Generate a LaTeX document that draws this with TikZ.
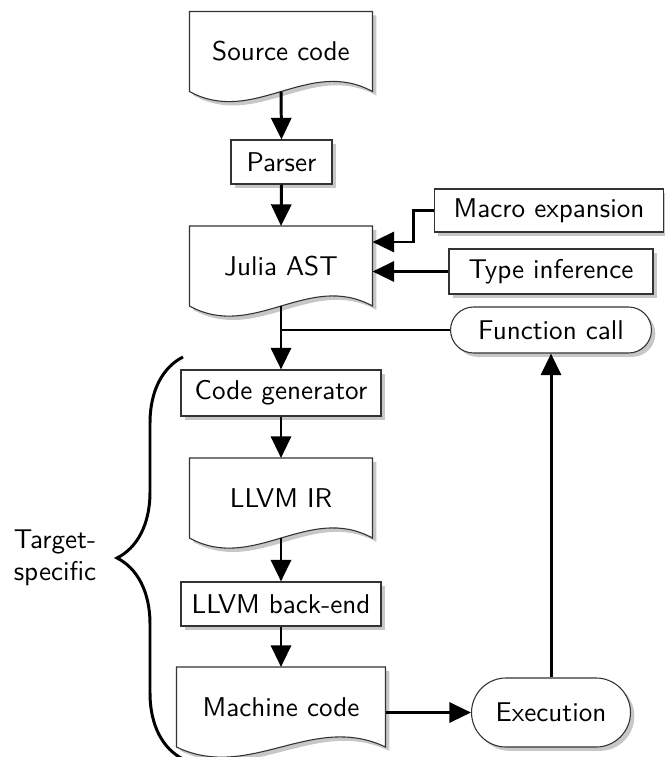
\documentclass[tikz,border=0pt]{standalone}
\usepackage{tikz}
\usetikzlibrary{arrows.meta}
\usetikzlibrary{shapes.misc,shadows,calc,backgrounds}
\usetikzlibrary{decorations.pathreplacing}

\tikzset{
  shad/.style={drop shadow={shadow xshift=0.5mm, shadow yshift=-0.5mm, fill=black!22, opacity=1}},
  box/.style={draw=black!80, thin, fill=white, shad, inner sep=0pt, minimum height=0.57cm},
  pill/.style={box, rounded rectangle},
  doc/.style={inner sep=0pt, minimum width=2.357cm, minimum height=1.023cm},
  flow/.style={line width=1.1pt, -{Triangle[length=2.8mm, width=2.6mm]}},
  link/.style={line width=1.1pt},
}

\begin{document}
\begin{tikzpicture}[x=0.012952cm, y=-0.012952cm, font=\sffamily]
         \useasboundingbox (0,0) rectangle (664,757);
         % main column
         \node[doc] (src) at (281,51.5) {Source code};
         \node[box, minimum width=1.308cm] (parser) at (281.5,162) {Parser};
         \node[doc] (ast) at (281,266) {Julia AST};
         \node[box, minimum width=2.59cm, minimum height=0.596cm] (codegen) at (281,393) {Code generator};
         \node[doc] (ir) at (281,498) {LLVM IR};
         \node[box, minimum width=2.59cm, minimum height=0.57cm] (backend) at (281,604) {LLVM back-end};
         \node[doc, minimum width=2.694cm] (mc) at (281,707) {Machine code};
         % right side
         \node[box, minimum width=2.966cm, minimum height=0.557cm] (macro) at (549,210.5) {Macro expansion};
         \node[box, minimum width=2.642cm, minimum height=0.583cm] (type) at (551,271.5) {Type inference};
         \node[pill, minimum width=2.603cm, minimum height=0.596cm] (fcall) at (551,330) {Function call};
         \node[pill, minimum width=2.059cm, minimum height=0.894cm] (exec) at (551,712.5) {Execution};
         % document outlines
         \begin{scope}[on background layer]
         \foreach \n in {src,ast,ir,mc}{
         \path[draw=black!80, thin, fill=white, shad]
           (\n.south west) -- (\n.north west) -- (\n.north east) -- (\n.south east)
           .. controls ($(\n.south west)!0.65!(\n.south east)+(0,-35)$)
           and ($(\n.south west)!0.35!(\n.south east)+(0,35)$) .. cycle;
         }
         \end{scope}
         % connectors
         \draw[flow] (src.south) -- (parser.north);
         \draw[flow] (parser.south) -- (ast.north);
         \draw[flow] (macro.west) -- ++(-20,0) |- ($(ast.east)+(0,-24)$);
         \draw[flow] (type.west) -- (type.west -| ast.east);
         \draw[flow] (ast.south) -- (codegen.north);
         \draw[link] (fcall.west) -- (fcall.west -| ast.south);
         \draw[flow] (codegen.south) -- (ir.north);
         \draw[flow] (ir.south) -- (backend.north);
         \draw[flow] (backend.south) -- (mc.north);
         \draw[flow] (exec.west -| mc.east) -- (exec.west);
         \draw[flow] (exec.north) -- (fcall.south);
         % brace
         \coordinate (btop) at (183,357);
         \coordinate (bbot) at (183,759);
         \draw[line width=1.1pt, decorate, decoration={brace, amplitude=0.855cm}] (bbot) -- (btop);
         \node[align=left] (tgt) at (55,558) {Target-\\specific};
        \end{tikzpicture}
\end{document}
